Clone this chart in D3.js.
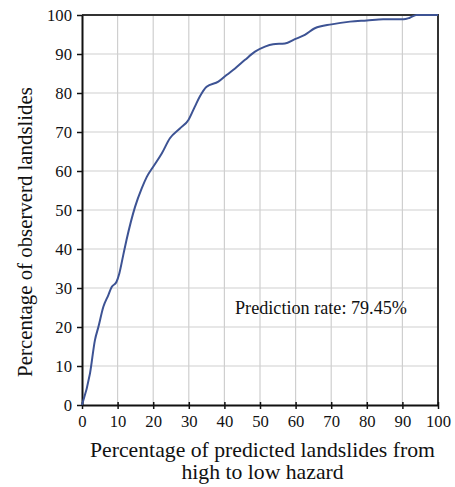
<!DOCTYPE html>
<html><head><meta charset="utf-8">
<script src="https://cdn.jsdelivr.net/npm/d3@7/dist/d3.min.js"></script>
<style>body{margin:0;background:#fff}svg{display:block}
svg text{font-family:"Liberation Serif","Times New Roman",Times,"DejaVu Serif",serif !important;}</style>
</head><body>
<script>
const xPct = [0,2.25,3.65,4.6,6,7.4,8.3,9.7,10.5,11.6,12.5,14.9,16.8,18.2,20,22.4,24.7,27.5,29.9,31.7,33.1,35,38.3,40.6,43,45.8,48.6,51.4,53.7,57,59.8,62.6,65.4,70.1,75.3,80,84.6,90.3,92.1,94,100];
const yPct = [0,8.1,16.7,20,25.2,28.2,30.2,31.6,33.8,38.5,42.3,50.8,55.6,58.5,61.1,64.5,68.4,70.9,73.1,76.5,79.1,81.6,82.9,84.6,86.3,88.5,90.6,91.9,92.5,92.7,93.8,94.9,96.6,97.6,98.3,98.6,98.9,98.9,99.3,100,100];
const xTicks = [0,10,20,30,40,50,60,70,80,90,100];
const yTicks = [0,10,20,30,40,50,60,70,80,90,100];
const xTitle = ["Percentage of predicted landslides from","high to low hazard"];
const yTitle = "Percentage of observerd landslides";
const note = "Prediction rate: 79.45%";

const W=455,H=487;
const m={l:82,t:15,r:438,b:405};
const svg=d3.select("body").append("svg").attr("width",W).attr("height",H);
const x=d3.scaleLinear().domain([0,100]).range([m.l,m.r]);
const y=d3.scaleLinear().domain([0,100]).range([m.b,m.t]);

function fit(sel,target,base){
  sel.attr("font-size",base);
  const w=sel.node().getComputedTextLength();
  sel.attr("font-size",Math.max(12,Math.min(24,base*target/w)));
  return sel;
}

// grid
svg.append("g").selectAll("line").data(xTicks.slice(1,-1)).join("line")
 .attr("x1",d=>x(d)).attr("x2",d=>x(d)).attr("y1",m.t).attr("y2",m.b)
 .attr("stroke","#cfcfcf").attr("stroke-width",1.2);
svg.append("g").selectAll("line").data(yTicks.slice(1,-1)).join("line")
 .attr("y1",d=>y(d)).attr("y2",d=>y(d)).attr("x1",m.l).attr("x2",m.r)
 .attr("stroke","#cfcfcf").attr("stroke-width",1.2);

// border top/right
svg.append("path").attr("d",`M${m.l},${m.t}H${m.r}V${m.b}`).attr("fill","none").attr("stroke","#333").attr("stroke-width",2);

// axes
const gx=svg.append("g").attr("transform",`translate(0,${m.b})`)
 .call(d3.axisBottom(x).tickValues(xTicks).tickSize(4).tickSizeOuter(0).tickPadding(6));
const gy=svg.append("g").attr("transform",`translate(${m.l},0)`)
 .call(d3.axisLeft(y).tickValues(yTicks).tickSize(5).tickSizeOuter(0).tickPadding(5));
// tick label size from width of "100" (~25px)
const probe=svg.append("text").text("100");
fit(probe,25,17);
const tickFs=+probe.attr("font-size");
probe.remove();
[gx,gy].forEach(g=>{
 g.attr("font-family",null);
 g.select(".domain").attr("stroke","#111").attr("stroke-width",2);
 g.selectAll(".tick line").attr("stroke","#111").attr("stroke-width",1.5);
 g.selectAll(".tick text").attr("font-size",tickFs).attr("fill","#111");
});
gx.selectAll(".tick line").attr("y1",-3);

// line
svg.append("path").datum(xPct.map((v,i)=>[v,yPct[i]]))
 .attr("d",d3.line().x(d=>x(d[0])).y(d=>y(d[1])).curve(d3.curveMonotoneX))
 .attr("fill","none").attr("stroke","#3d5394").attr("stroke-width",2);

// titles
const t1=svg.append("text").attr("x",262.5).attr("y",457).attr("text-anchor","middle")
 .attr("fill","#111").text(xTitle[0]);
fit(t1,345,20);
svg.append("text").attr("x",262.5).attr("y",479).attr("text-anchor","middle")
 .attr("font-size",t1.attr("font-size")).attr("fill","#111").text(xTitle[1]);
const ty=svg.append("text").attr("transform",`translate(32,232) rotate(-90)`).attr("text-anchor","middle")
 .attr("fill","#111").text(yTitle);
fit(ty,290,20);
const tn=svg.append("text").attr("x",235).attr("y",314)
 .attr("fill","#111").text(note);
fit(tn,172,17);
</script>
</body></html>
